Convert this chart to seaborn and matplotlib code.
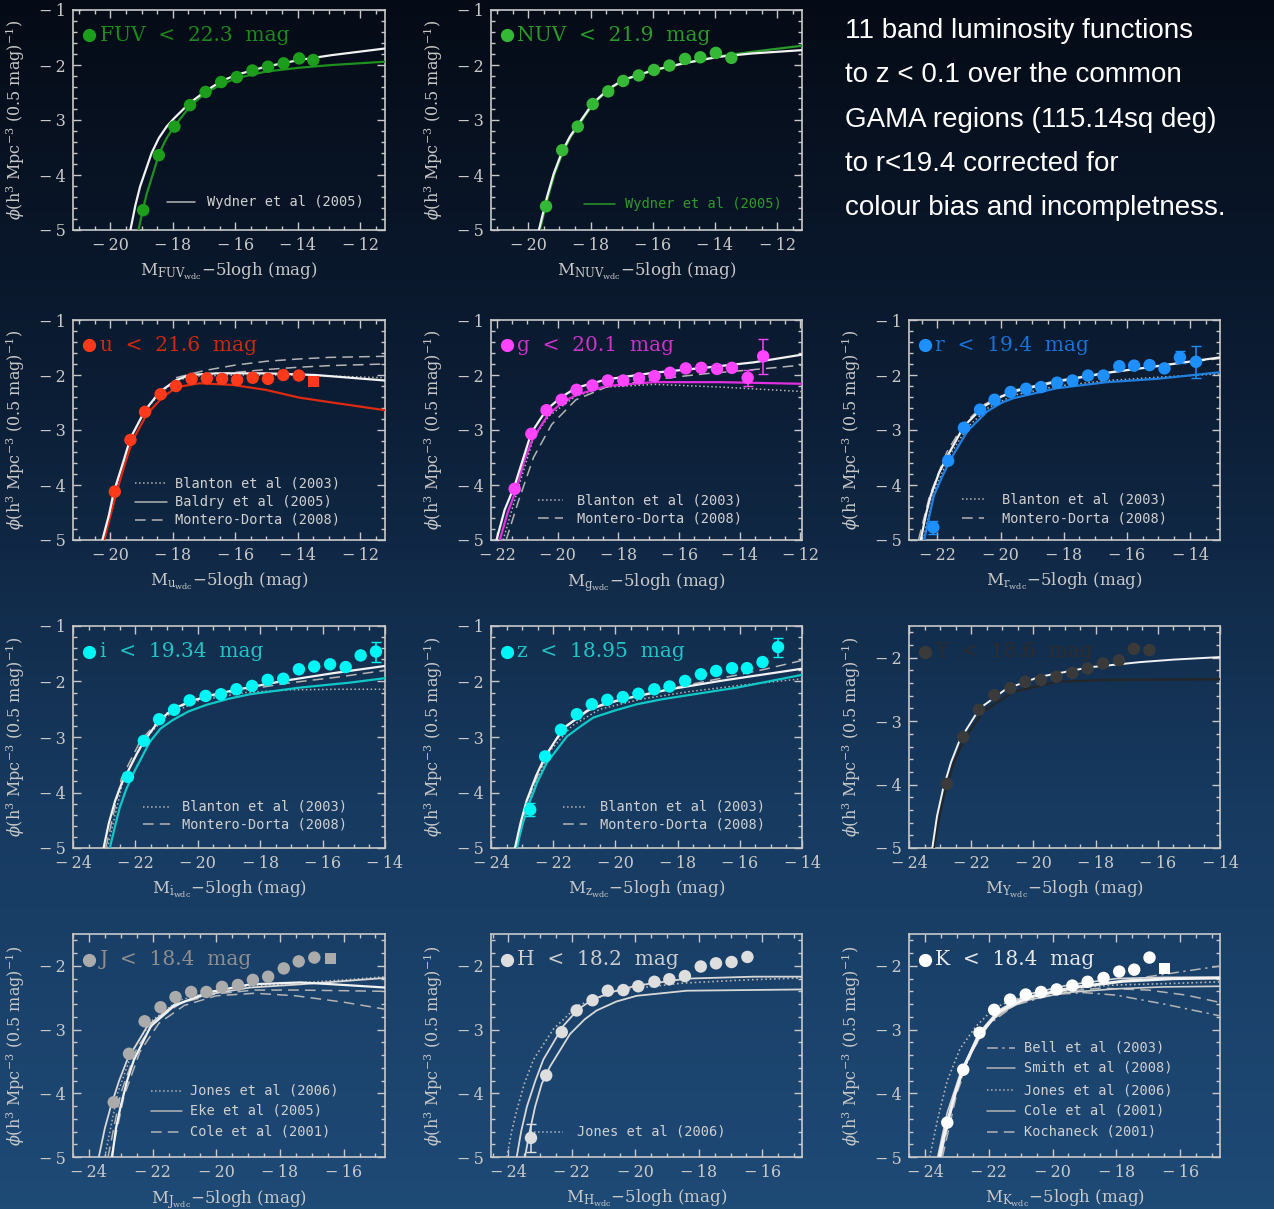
import numpy as np
import pandas as pd
import matplotlib
matplotlib.use("Agg")
import matplotlib.pyplot as plt
import seaborn as sns
from matplotlib.ticker import MultipleLocator, FuncFormatter
from matplotlib.colors import LinearSegmentedColormap

sns.set_theme(style="ticks")
plt.rcParams["font.family"] = ["DejaVu Serif"]
plt.rcParams["mathtext.fontset"] = "dejavuserif"

# ---------------- data ----------------
FUV_X = [-18.95, -18.45, -17.95, -17.45, -16.95, -16.45, -15.95, -15.45, -14.95, -14.45, -13.95, -13.5]
FUV_Y = [-4.64, -3.64, -3.12, -2.73, -2.49, -2.31, -2.22, -2.10, -2.03, -1.97, -1.88, -1.91]
FUV_FIT_X = [-19.36, -19.2, -19.05, -18.68, -18.45, -18.20, -17.96, -17.46, -16.96, -16.47, -15.97, -15.02, -13.96, -12.90, -11.2]
FUV_FIT_Y = [-5.0, -4.55, -4.21, -3.60, -3.33, -3.12, -2.97, -2.69, -2.48, -2.30, -2.18, -2.03, -1.91, -1.82, -1.70]
FUV_WYD_X = [-19.10, -18.95, -18.83, -18.43, -18.2, -17.96, -17.46, -16.96, -16.47, -15.97, -15.02, -13.96, -12.90, -11.2]
FUV_WYD_Y = [-5.0, -4.6, -4.33, -3.60, -3.33, -3.12, -2.76, -2.51, -2.36, -2.24, -2.12, -2.05, -2.00, -1.94]

NUV_X = [-19.43, -18.91, -18.41, -17.93, -17.43, -16.95, -16.45, -15.96, -15.46, -14.96, -14.47, -13.97, -13.47]
NUV_Y = [-4.57, -3.55, -3.12, -2.71, -2.48, -2.29, -2.19, -2.09, -2.01, -1.89, -1.86, -1.78, -1.87]
NUV_FIT_X = [-19.66, -19.40, -19.18, -18.91, -18.66, -18.41, -17.93, -17.43, -16.95, -15.96, -14.93, -13.86, -12.80, -11.2]
NUV_FIT_Y = [-5.0, -4.40, -3.97, -3.57, -3.30, -3.09, -2.70, -2.44, -2.27, -2.09, -1.96, -1.85, -1.79, -1.73]
NUV_WYD_X = [-19.63, -19.37, -19.15, -18.88, -18.63, -18.38, -17.90, -17.40, -16.92, -15.93, -14.90, -13.86, -12.80, -11.2]
NUV_WYD_Y = [-5.0, -4.40, -3.97, -3.57, -3.30, -3.09, -2.70, -2.44, -2.27, -2.09, -1.96, -1.84, -1.76, -1.65]

U_X = [-19.86, -19.36, -18.89, -18.39, -17.90, -17.40, -16.91, -16.42, -15.94, -15.44, -14.95, -14.46, -13.96]
U_Y = [-4.12, -3.18, -2.67, -2.35, -2.20, -2.07, -2.06, -2.07, -2.09, -2.05, -2.07, -2.00, -2.01]
U_SQ_X = [-13.49]
U_SQ_Y = [-2.12]
U_FIT_X = [-20.26, -20.05, -19.89, -19.6, -19.36, -18.89, -18.41, -17.88, -17.46, -16.61, -15.02, -13.43, -11.2]
U_FIT_Y = [-5.0, -4.55, -4.12, -3.6, -3.15, -2.64, -2.30, -2.09, -2.0, -1.97, -1.97, -2.0, -2.10]
U_RED_X = [-20.2, -19.95, -19.8, -19.5, -19.3, -18.84, -18.36, -17.88, -17.14, -16.08, -15.02, -13.96, -12.90, -11.2]
U_RED_Y = [-5.0, -4.45, -4.12, -3.55, -3.2, -2.72, -2.42, -2.22, -2.15, -2.18, -2.27, -2.41, -2.50, -2.64]
U_BLA_X = [-20.2, -19.85, -19.35, -18.9, -18.4, -17.9, -17.3, -16.0, -14.0, -11.2]
U_BLA_Y = [-5.0, -4.1, -3.13, -2.66, -2.32, -2.10, -2.02, -2.0, -2.0, -2.05]
U_MD1_X = [-17.9, -17.0, -16.0, -15.0, -14.0, -13.0, -11.2]
U_MD1_Y = [-2.05, -1.92, -1.82, -1.75, -1.71, -1.68, -1.66]
U_MD2_X = [-17.6, -16.5, -15.0, -14.0, -13.0, -11.2]
U_MD2_Y = [-2.05, -1.98, -1.90, -1.86, -1.83, -1.80]

G_X = [-21.42, -20.87, -20.37, -19.87, -19.38, -18.86, -18.35, -17.84, -17.32, -16.81, -16.30, -15.78, -15.27, -14.75, -14.26, -13.74, -13.23]
G_Y = [-4.07, -3.07, -2.64, -2.45, -2.27, -2.19, -2.10, -2.10, -2.06, -2.02, -1.96, -1.88, -1.87, -1.89, -1.87, -2.05, -1.66]
G_ERR_X = [-13.74, -13.23]
G_ERR_Y = [-2.05, -1.66]
G_ERR_E = [0.15, 0.32]
G_FIT_X = [-22.02, -21.75, -21.42, -21.1, -20.87, -20.37, -19.88, -19.38, -18.39, -16.85, -15.19, -13.54, -11.95]
G_FIT_Y = [-5.0, -4.45, -4.01, -3.45, -3.05, -2.63, -2.40, -2.23, -2.08, -1.96, -1.87, -1.77, -1.63]
G_MAG_X = [-21.91, -21.65, -21.36, -21.1, -20.81, -20.31, -19.85, -19.38, -18.39, -16.85, -14.64, -11.95]
G_MAG_Y = [-5.0, -4.5, -4.07, -3.55, -3.14, -2.72, -2.50, -2.36, -2.20, -2.13, -2.13, -2.16]
G_BLA_X = [-21.8, -21.3, -20.8, -20.3, -19.4, -18.4, -16.8, -14.6, -11.95]
G_BLA_Y = [-5.0, -4.05, -3.15, -2.75, -2.38, -2.22, -2.17, -2.22, -2.30]
G_MD_X = [-21.7, -21.3, -20.8, -20.2, -19.4, -18.4, -16.8, -15.2, -13.5, -11.95]
G_MD_Y = [-5.0, -4.3, -3.5, -2.9, -2.45, -2.22, -2.08, -1.98, -1.90, -1.82]

R_X = [-22.13, -21.66, -21.16, -20.65, -20.19, -19.68, -19.19, -18.72, -18.21, -17.72, -17.23, -16.74, -16.24, -15.77, -15.28, -14.81, -14.32, -13.81]
R_Y = [-4.77, -3.56, -2.96, -2.63, -2.45, -2.31, -2.25, -2.22, -2.14, -2.10, -2.01, -2.01, -1.84, -1.83, -1.82, -1.88, -1.68, -1.76]
R_ERR_X = [-22.13, -14.32, -13.81]
R_ERR_Y = [-4.77, -1.68, -1.76]
R_ERR_E = [0.12, 0.11, 0.29]
R_FIT_X = [-22.53, -22.35, -22.21, -21.95, -21.68, -21.16, -20.53, -20.0, -19.58, -18.21, -16.63, -15.05, -13.05]
R_FIT_Y = [-5.0, -4.5, -4.19, -3.78, -3.47, -2.93, -2.57, -2.40, -2.30, -2.12, -1.96, -1.84, -1.68]
R_BLU_X = [-22.42, -22.25, -22.11, -21.85, -21.58, -21.05, -20.42, -19.95, -19.58, -18.21, -16.63, -15.05, -13.05]
R_BLU_Y = [-5.0, -4.55, -4.19, -3.85, -3.53, -3.02, -2.66, -2.50, -2.42, -2.24, -2.13, -2.07, -1.95]
R_BLA_X = [-22.45, -22.1, -21.6, -21.05, -20.4, -19.6, -18.2, -16.6, -15.0, -13.05]
R_BLA_Y = [-5.0, -4.1, -3.45, -2.95, -2.6, -2.37, -2.2, -2.1, -2.04, -1.98]
R_MD_X = [-22.6, -22.25, -21.7, -21.15, -20.5, -19.6, -18.2, -16.6, -15.0, -13.05]
R_MD_Y = [-5.0, -4.2, -3.4, -2.88, -2.53, -2.28, -2.10, -1.95, -1.83, -1.70]

I_X = [-22.24, -21.73, -21.24, -20.76, -20.26, -19.75, -19.26, -18.76, -18.26, -17.76, -17.26, -16.76, -16.27, -15.76, -15.26, -14.78, -14.29]
I_Y = [-3.72, -3.07, -2.68, -2.51, -2.34, -2.26, -2.23, -2.14, -2.08, -1.97, -1.95, -1.78, -1.73, -1.69, -1.74, -1.53, -1.46]
I_ERR_X = [-14.29]
I_ERR_Y = [-1.46]
I_ERR_E = [0.18]
I_FIT_X = [-23.02, -22.85, -22.65, -22.45, -22.24, -21.95, -21.73, -21.24, -20.8, -20.26, -19.6, -18.87, -17.26, -15.66, -14.0]
I_FIT_Y = [-5.0, -4.55, -4.15, -3.85, -3.62, -3.30, -3.08, -2.70, -2.50, -2.36, -2.25, -2.16, -1.99, -1.85, -1.72]
I_CYA_X = [-22.82, -22.65, -22.50, -22.30, -22.07, -21.54, -21.2, -20.79, -20.3, -19.72, -19.0, -18.33, -16.73, -15.12, -14.0]
I_CYA_Y = [-5.0, -4.6, -4.27, -3.95, -3.66, -3.09, -2.85, -2.69, -2.54, -2.42, -2.31, -2.23, -2.11, -2.02, -1.94]
I_BLA_X = [-22.9, -22.4, -21.8, -21.0, -20.0, -18.5, -17.0, -15.5, -14.0]
I_BLA_Y = [-5.0, -3.8, -3.1, -2.62, -2.35, -2.20, -2.15, -2.14, -2.14]
I_MD_X = [-22.95, -22.45, -21.85, -21.1, -20.1, -18.6, -17.0, -15.5, -14.0]
I_MD_Y = [-5.0, -3.75, -3.08, -2.6, -2.33, -2.16, -2.02, -1.92, -1.80]

Z_X = [-22.74, -22.26, -21.75, -21.24, -20.76, -20.26, -19.76, -19.26, -18.75, -18.26, -17.76, -17.25, -16.76, -16.25, -15.77, -15.27, -14.77]
Z_Y = [-4.31, -3.35, -2.87, -2.59, -2.41, -2.33, -2.28, -2.22, -2.14, -2.09, -1.99, -1.87, -1.81, -1.76, -1.76, -1.65, -1.38]
Z_ERR_X = [-22.74, -14.77]
Z_ERR_Y = [-4.31, -1.38]
Z_ERR_E = [0.12, 0.17]
Z_FIT_X = [-23.23, -23.05, -22.85, -22.55, -22.26, -21.67, -20.92, -20.4, -19.85, -18.24, -16.63, -15.56, -14.0]
Z_FIT_Y = [-5.0, -4.55, -4.14, -3.7, -3.35, -2.84, -2.53, -2.41, -2.33, -2.14, -1.99, -1.90, -1.77]
Z_CYA_X = [-23.17, -23.0, -22.80, -22.5, -22.21, -21.56, -21.1, -20.71, -20.0, -19.31, -18.5, -17.70, -16.09, -14.0]
Z_CYA_Y = [-5.0, -4.6, -4.23, -3.8, -3.47, -2.99, -2.80, -2.65, -2.52, -2.41, -2.32, -2.25, -2.11, -1.88]
Z_MD_X = [-23.2, -22.8, -22.2, -21.6, -20.8, -19.5, -18.0, -16.5, -15.2, -14.0]
Z_MD_Y = [-5.0, -4.1, -3.3, -2.82, -2.5, -2.28, -2.1, -1.93, -1.78, -1.62]
Z_BLA_X = [-23.2, -22.7, -22.1, -21.4, -20.5, -19.2, -17.6, -16.0, -14.0]
Z_BLA_Y = [-5.0, -4.0, -3.25, -2.8, -2.5, -2.32, -2.18, -2.07, -1.95]

YB_X = [-22.78, -22.26, -21.75, -21.26, -20.74, -20.26, -19.76, -19.26, -18.75, -18.26, -17.76, -17.25, -16.77, -16.27]
YB_Y = [-3.99, -3.25, -2.82, -2.59, -2.48, -2.38, -2.35, -2.30, -2.24, -2.17, -2.09, -2.04, -1.86, -1.88]
YB_FIT_X = [-23.25, -23.1, -22.91, -22.65, -22.37, -21.73, -20.87, -19.79, -18.18, -16.58, -15.50, -14.0]
YB_FIT_Y = [-5.0, -4.5, -4.08, -3.65, -3.30, -2.80, -2.49, -2.30, -2.15, -2.07, -2.03, -1.99]
YB_DRK_X = [-23.2, -23.0, -22.80, -22.55, -22.26, -21.62, -20.65, -19.26, -17.65, -14.0]
YB_DRK_Y = [-5.0, -4.45, -4.03, -3.65, -3.32, -2.85, -2.54, -2.38, -2.35, -2.34]

J_X = [-23.22, -22.74, -22.25, -21.75, -21.28, -20.79, -20.31, -19.82, -19.32, -18.85, -18.37, -17.88, -17.41, -16.92]
J_Y = [-4.14, -3.38, -2.87, -2.65, -2.49, -2.41, -2.41, -2.33, -2.30, -2.22, -2.17, -2.04, -1.93, -1.87]
J_SQ_X = [-16.42]
J_SQ_Y = [-1.89]
J_FIT_X = [-23.27, -23.15, -23.01, -22.8, -22.59, -22.06, -21.33, -20.29, -18.93, -17.36, -16.31, -14.7]
J_FIT_Y = [-5.0, -4.55, -4.22, -3.8, -3.48, -2.95, -2.63, -2.42, -2.29, -2.26, -2.29, -2.34]
J_EKE_X = [-23.69, -23.5, -23.32, -23.05, -22.80, -22.17, -21.33, -20.29, -18.93, -17.36, -14.7]
J_EKE_Y = [-5.0, -4.55, -4.22, -3.8, -3.48, -2.95, -2.61, -2.45, -2.34, -2.29, -2.19]
J_JON_X = [-23.5, -23.1, -22.6, -22.0, -21.2, -20.2, -19.0, -17.5, -16.0, -14.7]
J_JON_Y = [-5.0, -4.0, -3.3, -2.85, -2.55, -2.4, -2.32, -2.27, -2.22, -2.17]
J_COL1_X = [-23.4, -23.0, -22.5, -21.9, -21.1, -20.0, -18.8, -17.5, -16.0, -14.7]
J_COL1_Y = [-5.0, -4.0, -3.3, -2.85, -2.58, -2.44, -2.38, -2.38, -2.39, -2.40]
J_COL2_X = [-23.3, -22.9, -22.4, -21.8, -21.0, -20.0, -18.8, -17.5, -16.0, -14.7]
J_COL2_Y = [-5.0, -4.05, -3.35, -2.9, -2.62, -2.47, -2.43, -2.47, -2.57, -2.68]

H_X = [-23.29, -22.81, -22.32, -21.85, -21.35, -20.87, -20.38, -19.91, -19.40, -18.93, -18.44, -17.94, -17.46, -16.97, -16.47]
H_Y = [-4.70, -3.72, -3.04, -2.70, -2.54, -2.39, -2.38, -2.32, -2.25, -2.21, -2.16, -2.01, -1.96, -1.94, -1.86]
H_ERR_X = [-23.29]
H_ERR_Y = [-4.70]
H_ERR_E = [0.22]
H_UP_X = [-23.74, -23.6, -23.42, -23.15, -22.90, -22.27, -21.8, -21.32, -20.6, -19.96, -18.38, -16.28, -14.7]
H_UP_Y = [-5.0, -4.6, -4.21, -3.8, -3.47, -2.94, -2.68, -2.52, -2.39, -2.31, -2.20, -2.17, -2.17]
H_LOW_X = [-23.48, -23.33, -23.16, -22.95, -22.69, -22.06, -21.6, -21.22, -20.6, -19.96, -18.38, -14.7]
H_LOW_Y = [-5.0, -4.6, -4.21, -3.85, -3.58, -3.07, -2.84, -2.70, -2.56, -2.47, -2.39, -2.37]
H_JON_X = [-24.05, -23.9, -23.74, -23.5, -23.21, -22.58, -21.8, -20.5, -18.5, -16.5, -14.7]
H_JON_Y = [-5.0, -4.6, -4.27, -3.85, -3.47, -2.99, -2.62, -2.38, -2.27, -2.22, -2.19]

K_X = [-23.30, -22.80, -22.29, -21.83, -21.33, -20.84, -20.36, -19.87, -19.38, -18.90, -18.40, -17.91, -17.44, -16.96]
K_Y = [-4.46, -3.63, -3.05, -2.69, -2.53, -2.45, -2.41, -2.37, -2.31, -2.25, -2.19, -2.09, -2.06, -1.87]
K_SQ_X = [-16.49]
K_SQ_Y = [-2.04]
K_FIT_X = [-23.55, -23.42, -23.30, -23.05, -22.80, -22.27, -21.65, -20.81, -19.35, -17.78, -16.21, -14.7]
K_FIT_Y = [-5.0, -4.7, -4.46, -4.0, -3.61, -3.06, -2.71, -2.50, -2.34, -2.24, -2.20, -2.19]
K_SMI_X = [-23.5, -23.2, -22.8, -22.3, -21.7, -20.8, -19.5, -18.0, -16.5, -14.7]
K_SMI_Y = [-5.0, -4.25, -3.6, -3.05, -2.7, -2.45, -2.3, -2.2, -2.18, -2.18]
K_COL_X = [-23.6, -23.3, -22.9, -22.4, -21.8, -20.9, -19.6, -18.0, -16.5, -14.7]
K_COL_Y = [-5.0, -4.3, -3.7, -3.15, -2.78, -2.55, -2.42, -2.36, -2.33, -2.32]
K_JON_X = [-23.85, -23.6, -23.3, -22.9, -22.4, -21.8, -20.8, -19.5, -18.0, -16.5, -14.7]
K_JON_Y = [-5.0, -4.4, -3.8, -3.3, -2.95, -2.65, -2.45, -2.35, -2.3, -2.28, -2.25]
K_BEL1_X = [-23.5, -23.1, -22.6, -22.0, -21.2, -20.0, -18.5, -17.0, -15.8, -14.7]
K_BEL1_Y = [-5.0, -4.1, -3.4, -2.9, -2.6, -2.42, -2.3, -2.17, -2.08, -2.0]
K_BEL2_X = [-23.5, -23.1, -22.6, -22.0, -21.2, -20.0, -19.0, -18.0, -16.5, -14.7]
K_BEL2_Y = [-5.0, -4.1, -3.4, -2.92, -2.62, -2.45, -2.42, -2.46, -2.6, -2.79]
K_KOC_X = [-23.45, -23.0, -22.5, -21.9, -21.1, -20.0, -18.5, -17.0, -15.8, -14.7]
K_KOC_Y = [-5.0, -4.0, -3.3, -2.85, -2.58, -2.42, -2.35, -2.38, -2.46, -2.58]

INFO_LINES = ["11 band luminosity functions",
              "to z < 0.1 over the common",
              "GAMA regions (115.14sq deg)",
              "to r<19.4 corrected for",
              "colour bias and incompletness."]

# ---------------- styles ----------------
W, H = 1274, 1209
DOT, DASH, DASHDOT, SOLID = ":", (0, (7, 4)), (0, (7, 3, 1.5, 3)), "-"
GREY = "#b4b4b4"
WHITE = "#f2f2f2"
AXC = "#c8c8c8"
LEGFONT = ["DejaVu Sans Mono"]

def px_rect(l, t, r, b):
    return [l / W, 1 - b / H, (r - l) / W, (b - t) / H]

COLS = [(73, 385), (491, 802), (909, 1220)]
ROWS = [(10, 230), (320, 540), (626, 848), (934, 1157)]

STD2 = [("Blanton et al (2003)", DOT), ("Montero-Dorta (2008)", DASH)]

panels = [
    dict(r=0, c=0, band="FUV", xlim=(-21.2, -11.2), ylim=(-5, -1), pc="#1c9e1c", tc="#1a8a1a",
         label="FUV  <  22.3  mag", pts=(FUV_X, FUV_Y),
         curves=[(FUV_WYD_X, FUV_WYD_Y, "#1f8f1f", SOLID, 1.6), (FUV_FIT_X, FUV_FIT_Y, WHITE, SOLID, 1.6)],
         leg=[("Wydner et al (2005)", SOLID)], legc=GREY, legtc="#d0d0d0", legpos=(0.30, 0.39, 0.43, [0.126])),
    dict(r=0, c=1, band="NUV", xlim=(-21.2, -11.2), ylim=(-5, -1), pc="#35b835", tc="#2a9a2a",
         label="NUV  <  21.9  mag", pts=(NUV_X, NUV_Y),
         curves=[(NUV_WYD_X, NUV_WYD_Y, "#2a9a2a", SOLID, 1.6), (NUV_FIT_X, NUV_FIT_Y, WHITE, SOLID, 1.6)],
         leg=[("Wydner et al (2005)", SOLID)], legc="#2a9a2a", legtc="#2a9a2a", legpos=(0.30, 0.40, 0.43, [0.12])),
    dict(r=1, c=0, band="u", xlim=(-21.2, -11.2), ylim=(-5, -1), pc="#ff3a1a", tc="#cc2a10",
         label="u  <  21.6  mag", pts=(U_X, U_Y), sq=(U_SQ_X, U_SQ_Y),
         curves=[(U_MD1_X, U_MD1_Y, GREY, DASH, 1.1), (U_MD2_X, U_MD2_Y, GREY, DASH, 1.1),
                 (U_BLA_X, U_BLA_Y, GREY, DOT, 1.1), (U_RED_X, U_RED_Y, "#dd2a10", SOLID, 1.6),
                 (U_FIT_X, U_FIT_Y, WHITE, SOLID, 1.6)],
         leg=[("Blanton et al (2003)", DOT), ("Baldry et al (2005)", SOLID), ("Montero-Dorta (2008)", DASH)],
         legc=GREY, legtc="#d0d0d0", legpos=(0.20, 0.30, 0.326, [0.258, 0.171, 0.091])),
    dict(r=1, c=1, band="g", xlim=(-22.2, -11.95), ylim=(-5, -1), pc="#ff44ff", tc="#cc33cc",
         label="g  <  20.1  mag", pts=(G_X, G_Y), err=(G_ERR_X, G_ERR_Y, G_ERR_E),
         curves=[(G_MD_X, G_MD_Y, GREY, DASH, 1.1), (G_BLA_X, G_BLA_Y, GREY, DOT, 1.1),
                 (G_MAG_X, G_MAG_Y, "#e030e0", SOLID, 1.6), (G_FIT_X, G_FIT_Y, WHITE, SOLID, 1.6)],
         leg=STD2, legc=GREY, legtc="#d0d0d0", legpos=(0.15, 0.23, 0.275, [0.18, 0.10])),
    dict(r=1, c=2, band="r", xlim=(-22.9, -13.05), ylim=(-5, -1), pc="#1e8fff", tc="#1a72d6",
         label="r  <  19.4  mag", pts=(R_X, R_Y), err=(R_ERR_X, R_ERR_Y, R_ERR_E),
         curves=[(R_MD_X, R_MD_Y, GREY, DASH, 1.1), (R_BLA_X, R_BLA_Y, GREY, DOT, 1.1),
                 (R_BLU_X, R_BLU_Y, "#2080e0", SOLID, 1.6), (R_FIT_X, R_FIT_Y, WHITE, SOLID, 1.6)],
         leg=STD2, legc=GREY, legtc="#d0d0d0", legpos=(0.17, 0.24, 0.30, [0.186, 0.10])),
    dict(r=2, c=0, band="i", xlim=(-24, -14), ylim=(-5, -1), pc="#00f5f5", tc="#22c4c4",
         label="i  <  19.34  mag", pts=(I_X, I_Y), err=(I_ERR_X, I_ERR_Y, I_ERR_E),
         curves=[(I_MD_X, I_MD_Y, GREY, DASH, 1.1), (I_BLA_X, I_BLA_Y, GREY, DOT, 1.1),
                 (I_CYA_X, I_CYA_Y, "#10c8c8", SOLID, 1.6), (I_FIT_X, I_FIT_Y, WHITE, SOLID, 1.6)],
         leg=STD2, legc=GREY, legtc="#d0d0d0", legpos=(0.225, 0.31, 0.35, [0.185, 0.106])),
    dict(r=2, c=1, band="z", xlim=(-24, -14), ylim=(-5, -1), pc="#00f5f5", tc="#22c4c4",
         label="z  <  18.95  mag", pts=(Z_X, Z_Y), err=(Z_ERR_X, Z_ERR_Y, Z_ERR_E),
         curves=[(Z_MD_X, Z_MD_Y, GREY, DASH, 1.1), (Z_BLA_X, Z_BLA_Y, GREY, DOT, 1.1),
                 (Z_CYA_X, Z_CYA_Y, "#10c8c8", SOLID, 1.6), (Z_FIT_X, Z_FIT_Y, WHITE, SOLID, 1.6)],
         leg=STD2, legc=GREY, legtc="#d0d0d0", legpos=(0.23, 0.31, 0.35, [0.185, 0.106])),
    dict(r=2, c=2, band="Y", xlim=(-24, -14), ylim=(-5, -1.5), pc="#3a3a3a", tc="#2c2c2c",
         label="Y  <  18.6  mag", pts=(YB_X, YB_Y),
         curves=[(YB_DRK_X, YB_DRK_Y, "#262626", SOLID, 1.6), (YB_FIT_X, YB_FIT_Y, WHITE, SOLID, 1.4)],
         leg=[], legc=GREY, legtc="#d0d0d0", legpos=(0, 0, 0, [])),
    dict(r=3, c=0, band="J", xlim=(-24.5, -14.7), ylim=(-5, -1.5), pc="#ababab", tc="#8e8e8e",
         label="J  <  18.4  mag", pts=(J_X, J_Y), sq=(J_SQ_X, J_SQ_Y),
         curves=[(J_COL1_X, J_COL1_Y, GREY, DASH, 1.1), (J_COL2_X, J_COL2_Y, GREY, DASH, 1.1),
                 (J_JON_X, J_JON_Y, GREY, DOT, 1.1), (J_EKE_X, J_EKE_Y, "#d8d8d8", SOLID, 1.3),
                 (J_FIT_X, J_FIT_Y, WHITE, SOLID, 1.6)],
         leg=[("Jones et al (2006)", DOT), ("Eke et al (2005)", SOLID), ("Cole et al (2001)", DASH)],
         legc=GREY, legtc="#d0d0d0", legpos=(0.25, 0.35, 0.374, [0.297, 0.207, 0.114])),
    dict(r=3, c=1, band="H", xlim=(-24.55, -14.75), ylim=(-5, -1.5), pc="#dedede", tc="#cdcdcd",
         label="H  <  18.2  mag", pts=(H_X, H_Y), err=(H_ERR_X, H_ERR_Y, H_ERR_E),
         curves=[(H_JON_X, H_JON_Y, GREY, DOT, 1.2), (H_LOW_X, H_LOW_Y, "#d8d8d8", SOLID, 1.3),
                 (H_UP_X, H_UP_Y, "#d8d8d8", SOLID, 1.3)],
         leg=[("Jones et al (2006)", DOT)], legc=GREY, legtc="#d0d0d0", legpos=(0.125, 0.23, 0.276, [0.114])),
    dict(r=3, c=2, band="K", xlim=(-24.5, -14.75), ylim=(-5, -1.5), pc="#ffffff", tc="#e8e8e8",
         label="K  <  18.4  mag", pts=(K_X, K_Y), sq=(K_SQ_X, K_SQ_Y),
         curves=[(K_BEL1_X, K_BEL1_Y, GREY, DASHDOT, 1.1), (K_BEL2_X, K_BEL2_Y, GREY, DASHDOT, 1.1),
                 (K_KOC_X, K_KOC_Y, GREY, DASH, 1.1), (K_JON_X, K_JON_Y, GREY, DOT, 1.2),
                 (K_COL_X, K_COL_Y, "#d0d0d0", SOLID, 1.2), (K_SMI_X, K_SMI_Y, "#d8d8d8", SOLID, 1.2),
                 (K_FIT_X, K_FIT_Y, WHITE, SOLID, 2.2)],
         leg=[("Bell et al (2003)", DASHDOT), ("Smith et al (2008)", SOLID), ("Jones et al (2006)", DOT),
              ("Cole et al (2001)", SOLID), ("Kochaneck (2001)", DASH)],
         legc=GREY, legtc="#d0d0d0", legpos=(0.25, 0.34, 0.37, [0.49, 0.40, 0.30, 0.207, 0.114])),
]

def tick_fmt(v, pos):
    if abs(v - round(v)) > 1e-6:
        return ""
    iv = int(round(v))
    return ("\u2212\u2009%d" % abs(iv)) if iv < 0 else "%d" % iv

# ---------------- figure ----------------
fig = plt.figure(figsize=(W / 100, H / 100), dpi=100)

bg = fig.add_axes([0, 0, 1, 1], zorder=-10)
cmap = LinearSegmentedColormap.from_list("bg", ["#050b16", "#0c1e36", "#173a60", "#1e4a76"])
grad = np.linspace(0, 1, 256).reshape(-1, 1)
bg.imshow(grad, aspect="auto", cmap=cmap, extent=[0, 1, 0, 1], origin="upper")
bg.set_axis_off()

for p in panels:
    l, r_ = COLS[p["c"]]
    t, b = ROWS[p["r"]]
    ax = fig.add_axes(px_rect(l, t, r_, b))
    ax.set_facecolor("none")

    for (cx, cy, cc, ls, lw) in p["curves"]:
        sns.lineplot(x=cx, y=cy, ax=ax, color=cc, linestyle=ls, linewidth=lw,
                     estimator=None, sort=False, legend=False, zorder=3)

    px, py = p["pts"]
    if "err" in p:
        ex, ey, ee = p["err"]
        ax.errorbar(ex, ey, yerr=ee, fmt="none", ecolor=p["pc"], elinewidth=1.1, capsize=3.5, zorder=4)
    sns.scatterplot(x=px, y=py, ax=ax, color=p["pc"], s=80, edgecolor="none", legend=False, zorder=5)
    if "sq" in p:
        sx, sy = p["sq"]
        sns.scatterplot(x=sx, y=sy, ax=ax, color=p["pc"], s=65, marker="s", edgecolor="none",
                        legend=False, zorder=5)

    ax.set_xlim(*p["xlim"])
    ax.set_ylim(*p["ylim"])

    # label with marker
    ax.plot([0.05], [0.885], "o", color=p["pc"], ms=8.5, transform=ax.transAxes, clip_on=False, zorder=6)
    ax.text(0.085, 0.885, p["label"], transform=ax.transAxes, color=p["tc"], fontsize=14.5,
            va="center", ha="left")

    # legend
    x0, x1, xt, ys = p["legpos"]
    for (txt, ls), yy in zip(p["leg"], ys):
        ax.plot([x0, x1], [yy, yy], color=p["legc"], linestyle=ls, lw=1.1, transform=ax.transAxes)
        ax.text(xt, yy, txt, transform=ax.transAxes, color=p["legtc"], fontsize=9.8,
                family=LEGFONT, va="center", ha="left")

    # axes styling
    for s in ax.spines.values():
        s.set_color(AXC)
        s.set_linewidth(1.2)
    ax.xaxis.set_major_locator(MultipleLocator(2))
    ax.xaxis.set_minor_locator(MultipleLocator(0.5))
    ax.yaxis.set_major_locator(MultipleLocator(1))
    ax.yaxis.set_minor_locator(MultipleLocator(0.2))
    ax.xaxis.set_major_formatter(FuncFormatter(tick_fmt))
    ax.yaxis.set_major_formatter(FuncFormatter(tick_fmt))
    ax.tick_params(which="both", direction="in", top=True, right=True, color=AXC, width=1.0)
    ax.tick_params(which="major", length=6)
    ax.tick_params(which="minor", length=3)
    ax.tick_params(axis="both", which="major", labelsize=11.5, labelcolor=AXC, pad=5)

    ax.set_xlabel(r"M$_{\mathrm{%s}_{\mathrm{wdc}}}$$-$5logh (mag)" % p["band"],
                  color=AXC, fontsize=12, labelpad=5)
    ax.set_ylabel(r"$\phi$(h$^{3}$ Mpc$^{-3}$ (0.5 mag)$^{-1}$)", color=AXC, fontsize=11.5, labelpad=9)

# info text in the top-right corner
for k, line in enumerate(INFO_LINES):
    fig.text(845 / W, 1 - (38 + 44.3 * k) / H, line, color="white", fontsize=20,
             family=["Liberation Sans", "DejaVu Sans"], ha="left", va="baseline")

fig.savefig("out.png", dpi=100)
